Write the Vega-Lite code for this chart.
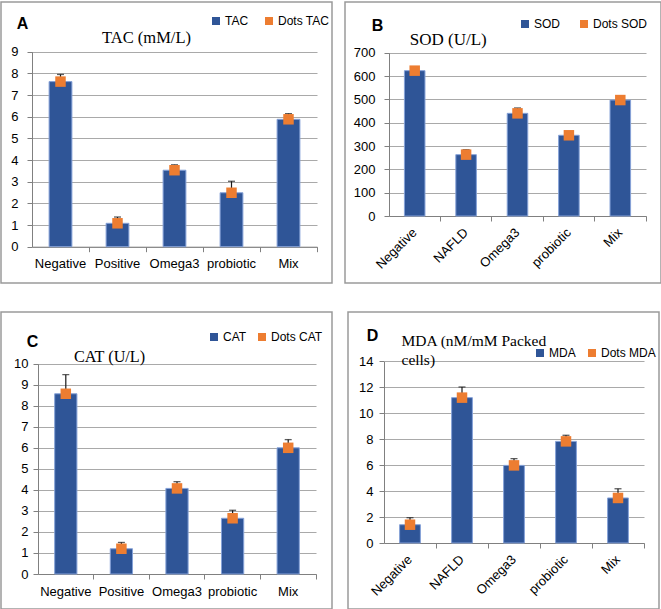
{
  "$schema": "https://vega.github.io/schema/vega-lite/v6.json",
  "background": "white",
  "padding": {"left": 0, "top": 1, "right": 0, "bottom": 0},
  "datasets": {
    "stress": [
      {"panel": "A", "group": "Negative", "value": 7.62, "hi": 7.95},
      {"panel": "A", "group": "Positive", "value": 1.08, "hi": 1.37},
      {"panel": "A", "group": "Omega3", "value": 3.53, "hi": 3.78},
      {"panel": "A", "group": "probiotic", "value": 2.49, "hi": 3.02},
      {"panel": "A", "group": "Mix", "value": 5.88, "hi": 6.14},
      {"panel": "B", "group": "Negative", "value": 623, "hi": 638},
      {"panel": "B", "group": "NAFLD", "value": 263, "hi": 284},
      {"panel": "B", "group": "Omega3", "value": 440, "hi": 463},
      {"panel": "B", "group": "probiotic", "value": 346, "hi": 358},
      {"panel": "B", "group": "Mix", "value": 497, "hi": 510},
      {"panel": "C", "group": "Negative", "value": 8.57, "hi": 9.48},
      {"panel": "C", "group": "Positive", "value": 1.2, "hi": 1.5},
      {"panel": "C", "group": "Omega3", "value": 4.07, "hi": 4.39},
      {"panel": "C", "group": "probiotic", "value": 2.65, "hi": 3.03},
      {"panel": "C", "group": "Mix", "value": 6.0, "hi": 6.39},
      {"panel": "D", "group": "Negative", "value": 1.41, "hi": 1.95},
      {"panel": "D", "group": "NAFLD", "value": 11.2, "hi": 12.02},
      {"panel": "D", "group": "Omega3", "value": 5.98, "hi": 6.5},
      {"panel": "D", "group": "probiotic", "value": 7.83, "hi": 8.3},
      {"panel": "D", "group": "Mix", "value": 3.47, "hi": 4.18}
    ]
  },
  "data": {"name": "stress"},
  "spacing": 27,
  "resolve": {"scale": {"color": "independent", "x": "independent", "y": "independent"}, "legend": {"color": "independent"}},
  "vconcat": [
    {
      "spacing": 13,
      "bounds": "flush",
      "resolve": {"scale": {"color": "independent", "x": "independent", "y": "independent"}, "legend": {"color": "independent"}},
      "hconcat": [
        {
          "width": 331,
          "height": 281,
          "transform": [{"filter": "datum.panel === 'A'"}],
          "encoding": {
            "x": {
              "field": "group", "type": "nominal", "sort": null,
              "scale": {"range": [31, 316], "paddingInner": 0.6, "paddingOuter": 0.3},
              "axis": {"offset": -36.3, "grid": false, "labelAngle": 0, "labelPadding": 6, "bandPosition": 1.75,
                       "labelFont": "Liberation Sans", "labelFontSize": 13, "labelColor": "black",
                       "domainColor": "gray", "tickColor": "gray", "tickSize": 5,
                       "title": "TAC (mM/L)", "titleX": 145, "titleY": -217.7,
                       "titleFont": "Liberation Serif", "titleFontSize": 16.5, "titleFontWeight": "normal", "titleColor": "black"}
            },
            "y": {"field": "value", "type": "quantitative",
                  "scale": {"domain": [0, 9], "range": [244.7, 49.7]},
                  "axis": {"offset": -31, "values": [0, 1, 2, 3, 4, 5, 6, 7, 8, 9], "labelPadding": 9,
                           "labelFont": "Liberation Sans", "labelFontSize": 13, "labelColor": "black",
                           "domain": true, "domainColor": "gray", "grid": true, "gridColor": "darkgray", "gridWidth": 1,
                           "tickColor": "gray", "tickSize": 5,
                           "title": "A", "titleAngle": 0, "titleX": -10, "titleY": 29,
                           "titleFont": "Liberation Sans", "titleFontSize": 16, "titleFontWeight": "bold", "titleColor": "black"}}
          },
          "layer": [
            {
              "mark": {"type": "bar", "stroke": "#86a2d8", "strokeWidth": 1},
              "encoding": {
                "color": {"datum": "TAC", "scale": {"domain": ["TAC", "Dots TAC"], "range": ["#2f5597", "#ed7d31"]},
                          "legend": {"orient": "none", "legendX": 209, "legendY": 13, "columnPadding": 14}}
              }
            },
            {"mark": {"type": "rule", "color": "#1a1a1a", "strokeWidth": 1.2},
             "encoding": {"y2": {"field": "hi"}}},
            {"mark": {"type": "tick", "color": "#1a1a1a", "size": 7, "thickness": 1.3},
             "encoding": {"y": {"field": "hi", "type": "quantitative"}}},
            {
              "mark": {"type": "point", "shape": "square", "filled": true, "size": 110, "opacity": 1},
              "encoding": {"color": {"datum": "Dots TAC"}}
            }
          ]
        },
        {
          "width": 316,
          "height": 281,
          "transform": [{"filter": "datum.panel === 'B'"}],
          "encoding": {
            "x": {
              "field": "group", "type": "nominal", "sort": null,
              "scale": {"range": [44, 301], "paddingInner": 0.6, "paddingOuter": 0.3},
              "axis": {"offset": -67, "grid": false, "labelAngle": -45, "labelAlign": "right", "labelBaseline": "middle",
                       "labelPadding": 9, "bandPosition": 1.75,
                       "labelFont": "Liberation Sans", "labelFontSize": 13, "labelColor": "black",
                       "domainColor": "gray", "tickColor": "gray", "tickSize": 5,
                       "title": "SOD (U/L)", "titleX": 102.7, "titleY": -185,
                       "titleFont": "Liberation Serif", "titleFontSize": 17, "titleFontWeight": "normal", "titleColor": "black"}
            },
            "y": {"field": "value", "type": "quantitative",
                  "scale": {"domain": [0, 700], "range": [214, 50.7]},
                  "axis": {"offset": -44, "values": [0, 100, 200, 300, 400, 500, 600, 700], "labelPadding": 9,
                           "labelFont": "Liberation Sans", "labelFontSize": 13, "labelColor": "black",
                           "domain": true, "domainColor": "gray", "grid": true, "gridColor": "darkgray", "gridWidth": 1,
                           "tickColor": "gray", "tickSize": 5,
                           "title": "B", "titleAngle": 0, "titleX": -12, "titleY": 31,
                           "titleFont": "Liberation Sans", "titleFontSize": 16, "titleFontWeight": "bold", "titleColor": "black"}}
          },
          "layer": [
            {
              "mark": {"type": "bar", "stroke": "#86a2d8", "strokeWidth": 1},
              "encoding": {
                "color": {"datum": "SOD", "scale": {"domain": ["SOD", "Dots SOD"], "range": ["#2f5597", "#ed7d31"]},
                          "legend": {"orient": "none", "legendX": 174, "legendY": 16, "columnPadding": 17}}
              }
            },
            {"mark": {"type": "rule", "color": "#1a1a1a", "strokeWidth": 1.2},
             "encoding": {"y2": {"field": "hi"}}},
            {"mark": {"type": "tick", "color": "#1a1a1a", "size": 7, "thickness": 1.3},
             "encoding": {"y": {"field": "hi", "type": "quantitative"}}},
            {
              "mark": {"type": "point", "shape": "square", "filled": true, "size": 110, "opacity": 1},
              "encoding": {"color": {"datum": "Dots SOD"}}
            }
          ]
        }
      ]
    },
    {
      "spacing": 16,
      "bounds": "flush",
      "resolve": {"scale": {"color": "independent", "x": "independent", "y": "independent"}, "legend": {"color": "independent"}},
      "hconcat": [
        {
          "width": 331,
          "height": 297,
          "transform": [{"filter": "datum.panel === 'C'"}],
          "encoding": {
            "x": {
              "field": "group", "type": "nominal", "sort": null,
              "scale": {"range": [37, 315], "paddingInner": 0.6, "paddingOuter": 0.3},
              "axis": {"offset": -35, "grid": false, "labelAngle": 0, "labelPadding": 6, "bandPosition": 1.75,
                       "labelFont": "Liberation Sans", "labelFontSize": 13, "labelColor": "black",
                       "domainColor": "gray", "tickColor": "gray", "tickSize": 5,
                       "title": "CAT (U/L)", "titleX": 108, "titleY": -225.3,
                       "titleFont": "Liberation Serif", "titleFontSize": 16.2, "titleFontWeight": "normal", "titleColor": "black"}
            },
            "y": {"field": "value", "type": "quantitative",
                  "scale": {"domain": [0, 10], "range": [262, 51.7]},
                  "axis": {"offset": -37, "values": [0, 1, 2, 3, 4, 5, 6, 7, 8, 9, 10], "labelPadding": 5,
                           "labelFont": "Liberation Sans", "labelFontSize": 13, "labelColor": "black",
                           "domain": true, "domainColor": "gray", "grid": true, "gridColor": "darkgray", "gridWidth": 1,
                           "tickColor": "gray", "tickSize": 5,
                           "title": "C", "titleAngle": 0, "titleX": -6, "titleY": 37,
                           "titleFont": "Liberation Sans", "titleFontSize": 16, "titleFontWeight": "bold", "titleColor": "black"}}
          },
          "layer": [
            {
              "mark": {"type": "bar", "stroke": "#86a2d8", "strokeWidth": 1},
              "encoding": {
                "color": {"datum": "CAT", "scale": {"domain": ["CAT", "Dots CAT"], "range": ["#2f5597", "#ed7d31"]},
                          "legend": {"orient": "none", "legendX": 207, "legendY": 19, "columnPadding": 9}}
              }
            },
            {"mark": {"type": "rule", "color": "#1a1a1a", "strokeWidth": 1.2},
             "encoding": {"y2": {"field": "hi"}}},
            {"mark": {"type": "tick", "color": "#1a1a1a", "size": 7, "thickness": 1.3},
             "encoding": {"y": {"field": "hi", "type": "quantitative"}}},
            {
              "mark": {"type": "point", "shape": "square", "filled": true, "size": 110, "opacity": 1},
              "encoding": {"color": {"datum": "Dots CAT"}}
            }
          ]
        },
        {
          "width": 311,
          "height": 297,
          "transform": [{"filter": "datum.panel === 'D'"}],
          "encoding": {
            "x": {
              "field": "group", "type": "nominal", "sort": null,
              "scale": {"range": [36, 296], "paddingInner": 0.6, "paddingOuter": 0.3},
              "axis": {"offset": -66, "grid": false, "labelAngle": -45, "labelAlign": "right", "labelBaseline": "middle",
                       "labelPadding": 9, "bandPosition": 1.75,
                       "labelFont": "Liberation Sans", "labelFontSize": 13, "labelColor": "black",
                       "domainColor": "gray", "tickColor": "gray", "tickSize": 5,
                       "title": ["MDA (nM/mM Packed", "cells)"], "titleX": 53, "titleY": -209.3, "titleAlign": "left",
                       "titleLineHeight": 18.5, "titleFont": "Liberation Serif",
                       "titleFontSize": 15.5, "titleFontWeight": "normal", "titleColor": "black"}
            },
            "y": {"field": "value", "type": "quantitative",
                  "scale": {"domain": [0, 14], "range": [231, 49.3]},
                  "axis": {"offset": -36, "values": [0, 2, 4, 6, 8, 10, 12, 14], "labelPadding": 6,
                           "labelFont": "Liberation Sans", "labelFontSize": 13, "labelColor": "black",
                           "domain": true, "domainColor": "gray", "grid": true, "gridColor": "darkgray", "gridWidth": 1,
                           "tickColor": "gray", "tickSize": 5,
                           "title": "D", "titleAngle": 0, "titleX": -12, "titleY": 31.7,
                           "titleFont": "Liberation Sans", "titleFontSize": 16, "titleFontWeight": "bold", "titleColor": "black"}}
          },
          "layer": [
            {
              "mark": {"type": "bar", "stroke": "#86a2d8", "strokeWidth": 1},
              "encoding": {
                "color": {"datum": "MDA", "scale": {"domain": ["MDA", "Dots MDA"], "range": ["#2f5597", "#ed7d31"]},
                          "legend": {"orient": "none", "legendX": 186, "legendY": 35, "columnPadding": 10}}
              }
            },
            {"mark": {"type": "rule", "color": "#1a1a1a", "strokeWidth": 1.2},
             "encoding": {"y2": {"field": "hi"}}},
            {"mark": {"type": "tick", "color": "#1a1a1a", "size": 7, "thickness": 1.3},
             "encoding": {"y": {"field": "hi", "type": "quantitative"}}},
            {
              "mark": {"type": "point", "shape": "square", "filled": true, "size": 110, "opacity": 1},
              "encoding": {"color": {"datum": "Dots MDA"}}
            }
          ]
        }
      ]
    }
  ],
  "config": {
    "view": {"stroke": "#9a9a9a", "strokeWidth": 1.5},
    "legend": {
      "direction": "horizontal",
      "title": null,
      "padding": 0,
      "symbolType": "square",
      "symbolSize": 64,
      "symbolStrokeWidth": 0,
      "labelFont": "Liberation Sans",
      "labelFontSize": 12,
      "labelColor": "black",
      "labelOffset": 3
    }
  }
}
